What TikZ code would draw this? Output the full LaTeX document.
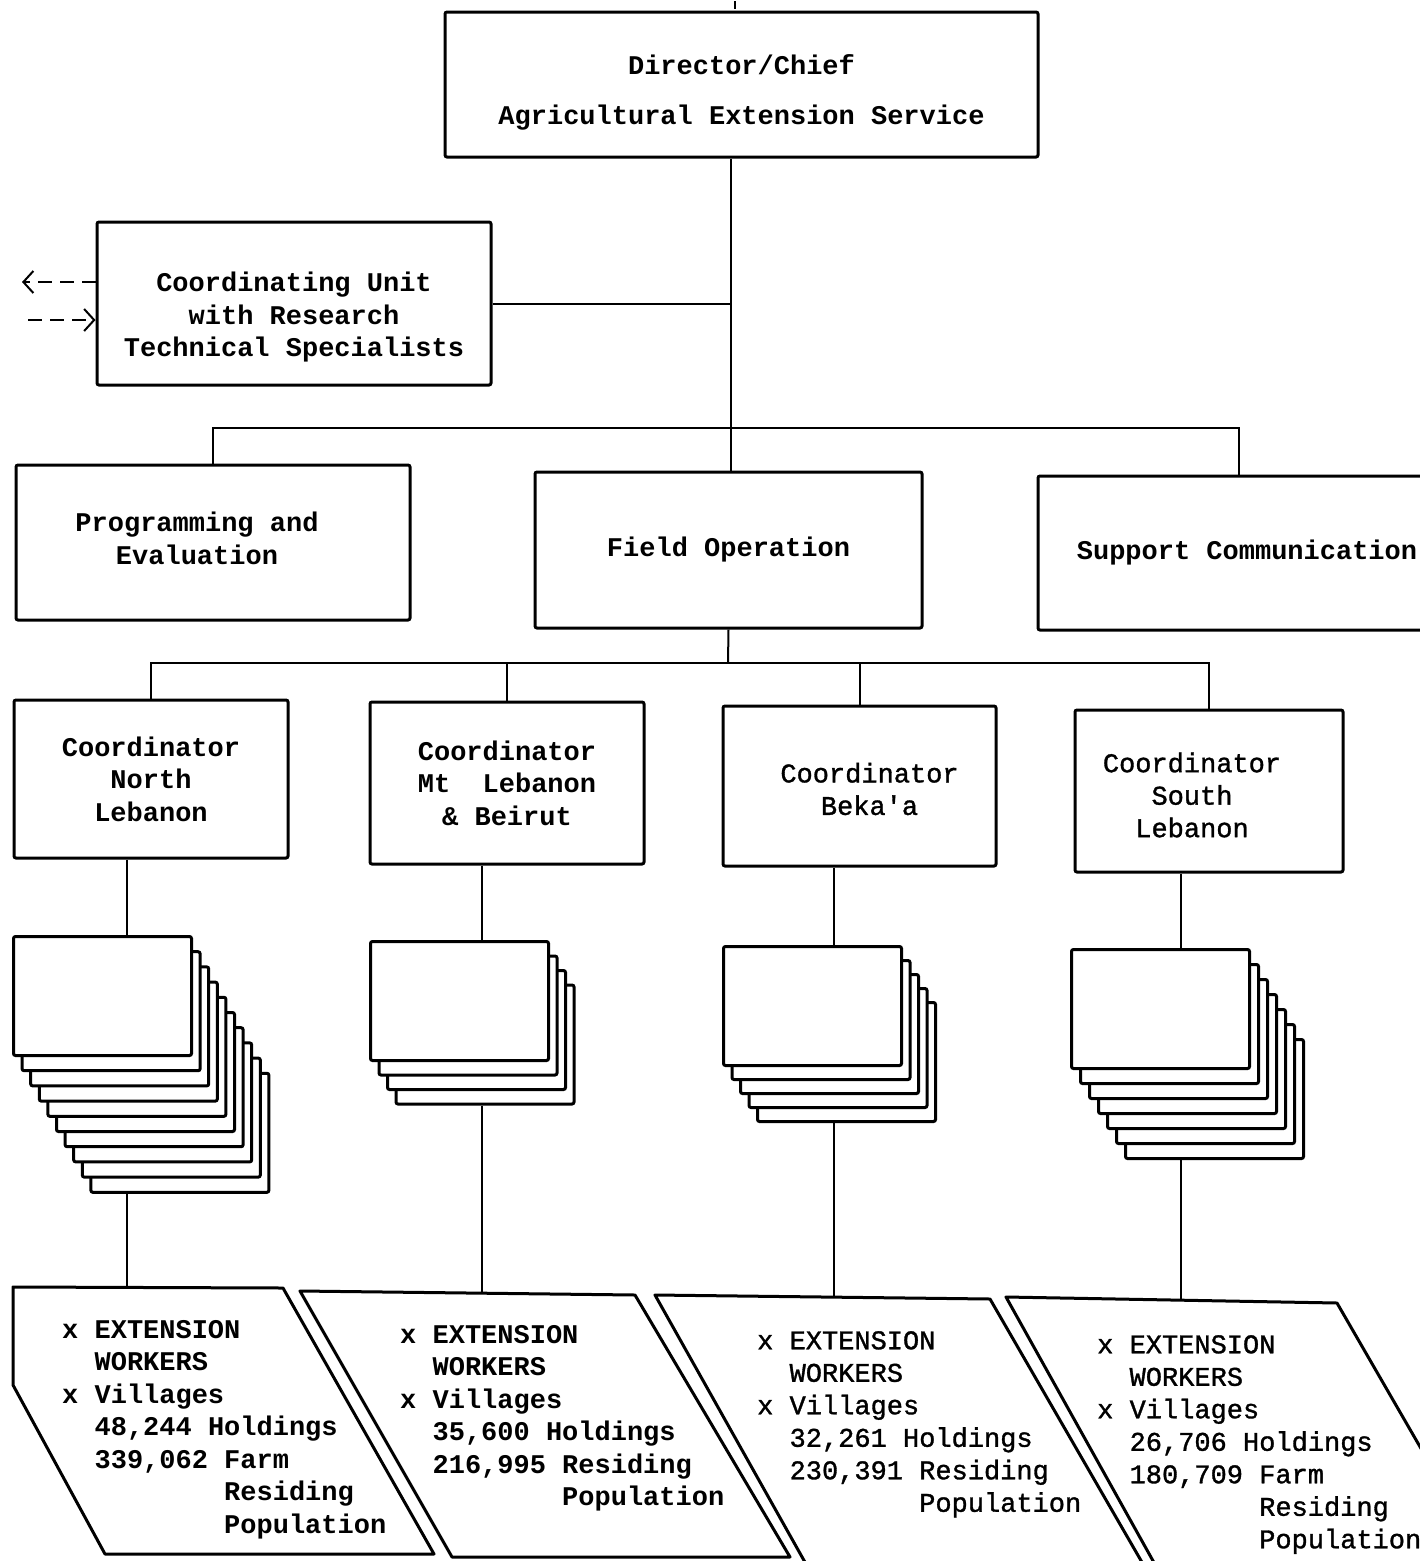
\documentclass[tikz,border=0pt]{standalone}
\usepackage{fontspec}
\newfontfamily\typewriter{Liberation Mono}
\newfontfamily\typewriterlight[FakeBold=1.2]{Liberation Mono}
\usetikzlibrary{arrows.meta}

\tikzset{
  office/.style={draw, line width=3pt, fill=white, rounded corners=2pt, align=center, inner sep=0pt},
  typed/.style={font=\typewriter\fontsize{27}{32.5}\selectfont\bfseries},
  faint/.style={font=\typewriterlight\fontsize{27}{32.5}\selectfont},
  card/.style={draw, line width=3pt, fill=white, rounded corners=2pt,
    minimum width=178pt, minimum height=119pt, inner sep=0pt, anchor=north west},
  link/.style={line width=2pt},
  feed/.style={line width=2pt, dash pattern=on 14pt off 8pt, -{Straight Barb[length=10pt,width=22pt]}},
  quota/.style={draw, line width=3pt, line join=round, fill=white},
}

\begin{document}
\begin{tikzpicture}[x=1pt,y=-1pt]
  \clip (0,0) rectangle (1420,1561);
  \fill[white] (0,0) rectangle (1420,1561);

  % head office
  \node[office, minimum width=593pt, minimum height=145pt,
    label={[typed, align=center, yshift=-8pt]center:Director/Chief\\[17pt]Agricultural Extension Service}]
    (director) at (741.5,84.5) {};
  \node[office, minimum width=394pt, minimum height=163pt,
    label={[typed, align=center, yshift=-14pt]center:Coordinating Unit\\with Research\\Technical Specialists}]
    (coordunit) at (294,303.5) {};
  \node[office, minimum width=394pt, minimum height=155pt,
    label={[typed, align=center, xshift=-16pt, yshift=4pt]center:Programming and\\Evaluation}]
    (prog) at (213,542.5) {};
  \node[office, typed, minimum width=387pt, minimum height=156pt] (field) at (728.5,550)
    {Field Operation};
  \node[office, typed, minimum width=402pt, minimum height=154pt] (support) at (1239,553)
    {\hspace*{16pt}Support Communication};

  % regional coordinators
  \node[office, typed, minimum width=274pt, minimum height=158pt] (crd1) at (151,779)
    {Coordinator\\North\\Lebanon};
  \node[office, typed, minimum width=274pt, minimum height=162pt] (crd2) at (507,783)
    {Coordinator\\Mt\hphantom{x} Lebanon\\\& Beirut};
  \node[office, minimum width=273pt, minimum height=160pt,
    label={[faint, align=center, xshift=10pt, yshift=-3pt]center:Coordinator\\Beka'a}]
    (crd3) at (859.5,786) {};
  \node[office, minimum width=268pt, minimum height=162pt,
    label={[faint, align=center, xshift=-17pt, yshift=-4pt]center:Coordinator\\South\\Lebanon}]
    (crd4) at (1209,791) {};

  % stacks of extension workers
  \foreach \k/\cx/\cy/\n/\dx/\dy in {1/12/935/9/8.6/15.2, 2/369/940/3/8.5/14.5,
                                      3/722/945/4/8.5/14, 4/1070/948/6/9/15}
    \foreach \i in {\n,...,0}
      \node[card] (stk\k-\i) at (\cx+\i*\dx,\cy+\i*\dy) {};

  % districts
  \path[quota] (13,1287) -- (283,1288) -- (434,1554) -- (105,1554) -- (13,1385) -- cycle;
  \path[quota] (300,1291) -- (635,1295) -- (790,1557) -- (452,1557) -- cycle;
  \path[quota] (655,1295) -- (990,1299) -- (1143,1564) -- (806,1564) -- cycle;
  \path[quota] (1006,1297) -- (1337,1303) -- (1490,1568) -- (1157,1568) -- cycle;

  \node[typed, align=left, anchor=north west, inner sep=0pt] (ext1) at (62,1320)
    {x EXTENSION\\\hphantom{xx}WORKERS\\x Villages\\\hphantom{xx}48,244 Holdings\\
     \hphantom{xx}339,062 Farm\\\hphantom{xxxxxxxxxx}Residing\\\hphantom{xxxxxxxxxx}Population};
  \node[typed, align=left, anchor=north west, inner sep=0pt] (ext2) at (400,1325)
    {x EXTENSION\\\hphantom{xx}WORKERS\\x Villages\\\hphantom{xx}35,600 Holdings\\
     \hphantom{xx}216,995 Residing\\\hphantom{xxxxxxxxxx}Population};
  \node[faint, align=left, anchor=north west, inner sep=0pt] (ext3) at (757,1331)
    {x EXTENSION\\\hphantom{xx}WORKERS\\x Villages\\\hphantom{xx}32,261 Holdings\\
     \hphantom{xx}230,391 Residing\\\hphantom{xxxxxxxxxx}Population};
  \node[faint, align=left, anchor=north west, inner sep=0pt] (ext4) at (1097,1335)
    {x EXTENSION\\\hphantom{xx}WORKERS\\x Villages\\\hphantom{xx}26,706 Holdings\\
     \hphantom{xx}180,709 Farm\\\hphantom{xxxxxxxxxx}Residing\\\hphantom{xxxxxxxxxx}Population};

  \coordinate (tick) at (735,1);
  \coordinate (bus1) at (731,428);
  \coordinate (bus2) at (728,663);
  \coordinate (outward) at (22,282);
  \coordinate (inward) at (28,320);
  \coordinate (col1) at (127,1288);
  \coordinate (col2) at (482,1292);
  \coordinate (col3) at (834,1296);
  \coordinate (col4) at (1181,1300);

  \draw[link] (tick) -- ++(0,8);
  \draw[link] (director.south -| bus1) -- (field.north -| bus1);
  \draw[link] (coordunit.east) -- (coordunit.east -| bus1);
  \draw[link] (prog.north) |- (bus1) -| (support.north);
  \draw[link] (field.south) -- (bus2);
  \draw[link] (crd1.north) |- (bus2) -| (crd4.north);
  \draw[link] (crd2.north) -- (crd2.north |- bus2);
  \draw[link] (crd3.north) -- (crd3.north |- bus2);
  \draw[feed] (outward -| coordunit.west) -- (outward);
  \draw[feed] (inward) -- (inward -| coordunit.west);

  \foreach \k/\n in {1/9,2/3,3/4,4/6}{
    \draw[link] (crd\k.south -| col\k) -- (stk\k-0.north -| col\k);
    \draw[link] (stk\k-\n.south -| col\k) -- (col\k);
  }
\end{tikzpicture}
\end{document}
